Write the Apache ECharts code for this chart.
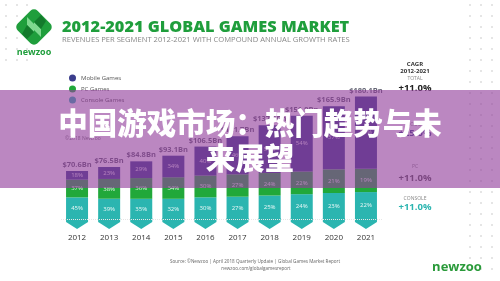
<!DOCTYPE html>
<html><head><meta charset="utf-8">
<script src="https://cdn.jsdelivr.net/npm/echarts@6/dist/echarts.min.js"></script>
<style>html,body{margin:0;padding:0;background:#fff}#c{width:500px;height:281px}</style>
</head><body><div id="c"></div>
<script>
const years = ['2012','2013','2014','2015','2016','2017','2018','2019','2020','2021'];
const consoleRev = [31.8, 29.8, 29.7, 29.7, 31.9, 32.8, 34.5, 36.5, 38.2, 39.6];
const pcRev      = [26.1, 29.1, 30.5, 31.7, 32.0, 32.9, 33.1, 33.4, 34.8, 34.2];
const mobileRev  = [12.7, 17.6, 24.6, 31.7, 42.6, 56.0, 70.3, 82.0, 92.9, 106.3];
const totals     = [70.6, 76.5, 84.8, 93.1, 106.5, 121.7, 137.9, 151.9, 165.9, 180.1];
const totalLabels = ['$70.6Bn','$76.5Bn','$84.8Bn','$93.1Bn','$106.5Bn','$121.7Bn','$137.9Bn','$151.9Bn','$165.9Bn','$180.1Bn'];
const mobilePct  = ['18%','23%','29%','34%','40%','46%','51%','54%','57%','59%'];
const pcPct      = ['37%','38%','36%','34%','30%','27%','24%','22%','21%','19%'];
const consolePct = ['45%','39%','35%','32%','30%','27%','25%','24%','23%','22%'];
const seriesNames = ['Mobile Games','PC Games','Console Games'];
const cagrLabels = ['TOTAL','MOBILE','PC','CONSOLE'];
const cagrValues = ['+11.0%','+25.0%','+11.0%','+11.0%'];

const C_MOBILE = '#3b3d8c', C_PC = '#21a83a', C_CONSOLE = '#2bb5b0', C_GREEN = '#1f9e3c';
const FONT = 'Open Sans';

const chart = echarts.init(document.getElementById('c'), null, {renderer:'canvas'});

const graphics = [];
// dot grids
for (let r = 0; r < 25; r++) {
  for (const cx of [470, 481, 492]) {
    graphics.push({type:'circle', shape:{cx:cx, cy:5 + r*11, r:1}, style:{fill:'#dcdcdc'}, silent:true});
  }
}
for (let r = 0; r < 6; r++) {
  for (const cx of [6, 17, 27]) {
    graphics.push({type:'circle', shape:{cx:cx, cy:5 + r*11, r:1}, style:{fill:'#dcdcdc'}, silent:true});
  }
}
// logo
graphics.push({type:'rect', x:34, y:27, rotation:Math.PI/4, shape:{x:-14, y:-14, width:28, height:28, r:5}, style:{fill:C_GREEN}, z:5});
graphics.push({type:'polygon', shape:{points:[[27,17],[34,24],[34,32],[27,25]]}, style:{fill:'#7fd88f'}, z:6});
graphics.push({type:'polygon', shape:{points:[[34,22],[41,29],[41,37],[34,30]]}, style:{fill:'#7fd88f'}, z:6});
graphics.push({type:'polygon', shape:{points:[[27,25],[34,32],[27,39],[22,34]]}, style:{fill:'#137a2c'}, z:6});
graphics.push({type:'polygon', shape:{points:[[41,29],[46,21],[41,15],[34,22]]}, style:{fill:'#137a2c'}, z:6});
graphics.push({type:'text', x:34, y:52, style:{text:'newzoo', font:'bold 9px '+FONT, fill:C_GREEN, textAlign:'center', textVerticalAlign:'middle'}, z:5});
// titles
graphics.push({type:'text', x:62, y:27, style:{text:'2012-2021 GLOBAL GAMES MARKET', font:'800 16.3px '+FONT, fill:C_GREEN, textAlign:'left', textVerticalAlign:'middle'}, z:5});
graphics.push({type:'text', x:62, y:39.5, style:{text:'REVENUES PER SEGMENT 2012-2021 WITH COMPOUND ANNUAL GROWTH RATES', font:'7.6px '+FONT, fill:'#888', textAlign:'left', textVerticalAlign:'middle'}, z:5});
// copyright
graphics.push({type:'text', x:65, y:139, style:{text:'\u00a92018 Newzoo', font:'5px '+FONT, fill:'#777', textAlign:'left', textVerticalAlign:'middle'}, z:5});
// CAGR block
graphics.push({type:'text', x:415, y:64, style:{text:'CAGR', font:'bold 6px '+FONT, fill:'#333', textAlign:'center', textVerticalAlign:'middle'}, z:5});
graphics.push({type:'text', x:415, y:71, style:{text:'2012-2021', font:'bold 6px '+FONT, fill:'#333', textAlign:'center', textVerticalAlign:'middle'}, z:5});
const cagrY = [[79,88],[125,133],[167,178],[199,207]];
const cagrColors = ['#222', C_MOBILE, '#555', C_CONSOLE];
for (let i = 0; i < 4; i++) {
  graphics.push({type:'text', x:415, y:cagrY[i][0], style:{text:cagrLabels[i], font:'5px '+FONT, fill:'#888', textAlign:'center', textVerticalAlign:'middle'}, z:5});
  graphics.push({type:'text', x:415, y:cagrY[i][1], style:{text:cagrValues[i], font:'bold 9.5px '+FONT, fill:cagrColors[i], textAlign:'center', textVerticalAlign:'middle'}, z:5});
}
// source
graphics.push({type:'text', x:255, y:262, style:{text:'Source: \u00a9Newzoo | April 2018 Quarterly Update | Global Games Market Report', font:'4.6px '+FONT, fill:'#666', textAlign:'center', textVerticalAlign:'middle'}, z:5});
graphics.push({type:'text', x:256, y:269, style:{text:'newzoo.com/globalgamesreport', font:'4.6px '+FONT, fill:'#666', textAlign:'center', textVerticalAlign:'middle'}, z:5});
graphics.push({type:'text', x:457, y:267, style:{text:'newzoo', font:'bold 13px '+FONT, fill:'#2a9a3a', textAlign:'center', textVerticalAlign:'middle'}, z:5});
// overlay band + title
graphics.push({type:'rect', shape:{x:0, y:90, width:500, height:98}, style:{fill:'rgba(145,62,155,0.62)'}, z:100, silent:true});
graphics.push({type:'text', x:250, y:123, style:{text:'中国游戏市场：热门趋势与未', font:'900 29.5px "Noto Sans CJK SC"', fill:'#fff', textAlign:'center', textVerticalAlign:'middle'}, z:101});
graphics.push({type:'text', x:250, y:158, style:{text:'来展望', font:'900 29.5px "Noto Sans CJK SC"', fill:'#fff', textAlign:'center', textVerticalAlign:'middle'}, z:101});

const pctLabel = (arr) => ({show:true, position:'inside', fontSize:6, color:'rgba(255,255,255,0.9)', fontFamily:FONT, formatter:(p)=>arr[p.dataIndex]});

const option = {
  animation:false,
  backgroundColor:'#fff',
  grid:{left:61, right:118, top:83, bottom:62},
  legend:{
    data:seriesNames, orient:'vertical', left:64, top:69.5, itemWidth:7, itemHeight:7, itemGap:4, icon:'circle',
    textStyle:{fontSize:6, color:'#555', fontFamily:FONT}, selectedMode:false
  },
  xAxis:{type:'category', data:years, axisLine:{show:false}, axisTick:{show:false},
    axisLabel:{margin:15, fontSize:8, color:'#333', fontFamily:FONT}},
  yAxis:{type:'value', min:0, max:200, show:false, splitLine:{show:false}},
  graphic:graphics,
  series:[
    {name:'Console Games', type:'bar', stack:'rev', data:consoleRev, barWidth:22, itemStyle:{color:C_CONSOLE}, label:pctLabel(consolePct),
      markLine:{silent:true, symbol:'none', label:{show:false}, lineStyle:{type:'dotted', color:'#e6e6e6', width:1}, data:[{yAxis:0}], z:10}},
    {name:'PC Games', type:'bar', stack:'rev', data:pcRev, barWidth:22, itemStyle:{color:C_PC}, label:pctLabel(pcPct)},
    {name:'Mobile Games', type:'bar', stack:'rev', data:mobileRev, barWidth:22, itemStyle:{color:C_MOBILE}, label:pctLabel(mobilePct)},
    {name:'totals', type:'scatter', data:totals, symbolSize:0, z:5,
      label:{show:true, position:'top', distance:2, fontSize:7.5, fontWeight:'bold', color:'#3a3a4e', fontFamily:FONT, formatter:(p)=>totalLabels[p.dataIndex]}},
    {name:'tips', type:'custom', data:consoleRev.map((v,i)=>[i, v]), z:1,
      renderItem:(params, api) => {
        const p = api.coord([api.value(0), 0]);
        const hw = 11;
        return {type:'polygon', shape:{points:[[p[0]-hw,p[1]-1],[p[0]+hw,p[1]-1],[p[0]+hw,p[1]+3],[p[0],p[1]+10],[p[0]-hw,p[1]+3]]}, style:{fill:C_CONSOLE}};
      }, encode:{x:0, y:1}}
  ]
};
chart.setOption(option);
</script></body></html>
